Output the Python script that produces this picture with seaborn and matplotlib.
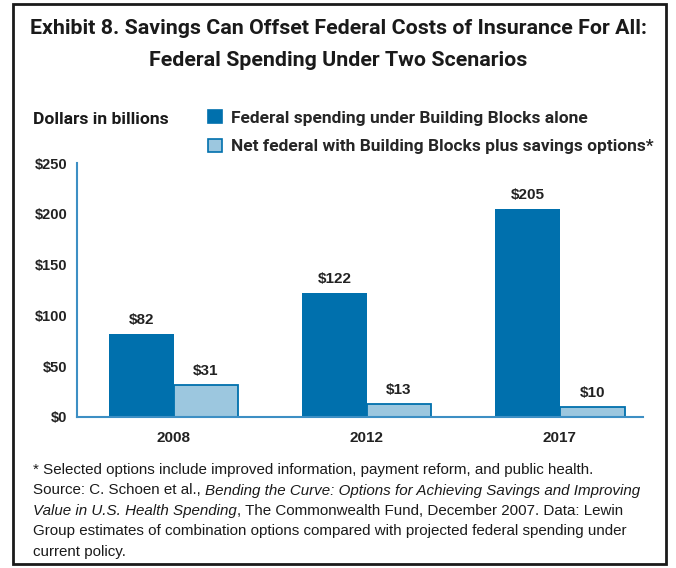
import numpy as np
import pandas as pd
import matplotlib
matplotlib.use("Agg")
import matplotlib.pyplot as plt
from matplotlib.patches import Rectangle, Patch
import seaborn as sns

years = ["2008", "2012", "2017"]
building_blocks = [82, 122, 205]
net_with_savings = [31, 13, 10]
series_names = ["Federal spending under Building Blocks alone",
                "Net federal with Building Blocks plus savings options*"]
y_ticks = [0, 50, 100, 150, 200, 250]

dark = "#0070ad"
light = "#9cc7df"
axis_blue = "#3d8fc4"

df = pd.DataFrame({
    "year": years * 2,
    "value": building_blocks + net_with_savings,
    "series": [series_names[0]] * 3 + [series_names[1]] * 3,
})

sns.set_style("white")
plt.rcParams["font.family"] = ["Liberation Sans", "DejaVu Sans"]
narrow = ["Roboto", "Liberation Sans", "DejaVu Sans"]

fig = plt.figure(figsize=(6.76, 5.68), dpi=100)
ax = fig.add_axes([0.114, 0.266, 0.837, 0.447])

sns.barplot(data=df, x="year", y="value", hue="series", palette=[dark, light],
            width=0.67, saturation=1, ax=ax, legend=False)

for bar, s in zip(ax.patches, [0] * 3 + [1] * 3):
    bar.set_edgecolor(dark)
    bar.set_linewidth(1.3 if s == 1 else 0)

for cont in ax.containers:
    ax.bar_label(cont, labels=[f"${v:.0f}" for v in cont.datavalues],
                 padding=5, fontsize=11, fontweight="bold", color="#222222")

ax.set_ylim(0, 250)
ax.set_xlim(-0.5, 2.43)
ax.set_yticks(y_ticks)
ax.set_yticklabels([f"${v}" for v in y_ticks], fontsize=10.5, fontweight="bold")
ax.set_xticks(range(3))
ax.set_xticklabels(years, fontsize=11, fontweight="bold")
ax.set_xticks([-0.5, 0.5, 1.5, 2.43], minor=True)
ax.tick_params(axis="x", which="major", length=0, pad=10, colors="#222222")
ax.tick_params(axis="x", which="minor", length=5, width=1.3, direction="out", color=axis_blue)
ax.tick_params(axis="y", length=5, width=1.3, direction="out", color=axis_blue,
               labelcolor="#222222", pad=2)
ax.set_xlabel("")
ax.set_ylabel("")
for side in ["top", "right"]:
    ax.spines[side].set_visible(False)
for side in ["left", "bottom"]:
    ax.spines[side].set_color(axis_blue)
    ax.spines[side].set_linewidth(1.5)

# title
fig.text(0.5, 1 - 29 / 568, "Exhibit 8. Savings Can Offset Federal Costs of Insurance For All:",
         ha="center", va="center", fontsize=15.4, fontweight="bold", family=narrow, color="#1a1a1a")
fig.text(0.5, 1 - 61 / 568, "Federal Spending Under Two Scenarios",
         ha="center", va="center", fontsize=15.4, fontweight="bold", family=narrow, color="#1a1a1a")

fig.text(33 / 676, 1 - 119 / 568, "Dollars in billions", ha="left", va="center",
         fontsize=12.6, fontweight="bold", family=narrow, color="#1a1a1a")

handles = [Patch(facecolor=dark, edgecolor=dark, linewidth=1.2),
           Patch(facecolor=light, edgecolor=dark, linewidth=1.2)]
leg = fig.legend(handles, series_names, loc="upper left", bbox_to_anchor=(208 / 676, 1 - 110 / 568),
                 frameon=False, handlelength=0.8, handleheight=0.8, handletextpad=0.5,
                 labelspacing=0.75, borderaxespad=0, borderpad=0,
                 prop={"family": narrow, "weight": "bold", "size": 12.5})

# footnote with italic pieces
renderer = fig.canvas.get_renderer()
note_lines = [
    [("* Selected options include improved information, payment reform, and public health.", "normal")],
    [("Source: C. Schoen et al., ", "normal"),
     ("Bending the Curve: Options for Achieving Savings and Improving", "italic")],
    [("Value in U.S. Health Spending", "italic"),
     (", The Commonwealth Fund, December 2007. Data: Lewin", "normal")],
    [("Group estimates of combination options compared with projected federal spending under", "normal")],
    [("current policy.", "normal")],
]
y0 = 1 - 470 / 568
for i, parts in enumerate(note_lines):
    x = 33 / 676
    y = y0 - i * 20.5 / 568
    for s, st in parts:
        t = fig.text(x, y, s, style=st, ha="left", va="center", fontsize=10.9, color="#1a1a1a")
        x += t.get_window_extent(renderer).width / fig.bbox.width

fig.patches.append(Rectangle((13 / 676, 4 / 568), 653 / 676, 560 / 568, transform=fig.transFigure,
                             fill=False, edgecolor="#1a1a1a", linewidth=2))

fig.savefig("out.png", dpi=100)
